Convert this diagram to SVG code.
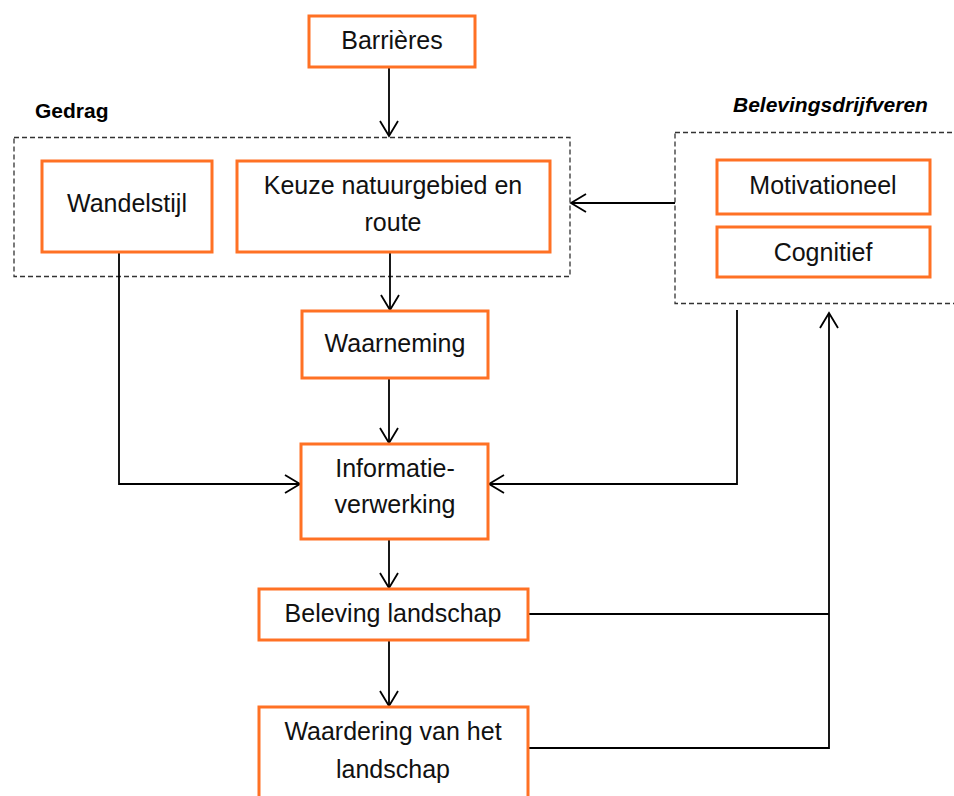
<svg xmlns="http://www.w3.org/2000/svg" width="954" height="796" viewBox="0 0 954 796">
<style>
.box{fill:#fff;stroke:#FF7124;stroke-width:3}
.grp{fill:none;stroke:#333;stroke-width:1.3;stroke-dasharray:5 3}
.t{font-family:"Liberation Sans",Arial,sans-serif;font-size:25px;fill:#111;text-anchor:middle}
.h{font-family:"Liberation Sans",Arial,sans-serif;font-size:21px;font-weight:bold;fill:#000}
.c{fill:none;stroke:#000;stroke-width:1.8}
</style>
<defs>
<marker id="arr" viewBox="-17 -11 19 22" refX="0" refY="0" markerWidth="19" markerHeight="22" markerUnits="userSpaceOnUse" orient="auto">
<path d="M-15,-9 L0,0 L-15,9" fill="none" stroke="#000" stroke-width="1.8"/>
</marker>
</defs>
<rect width="954" height="796" fill="#fff"/>
<g id="gedrag">
<rect class="grp" x="14" y="137.5" width="556" height="139"/>
<text class="h" x="35" y="118">Gedrag</text>
</g>
<g id="belevingsdrijfveren">
<rect class="grp" x="675" y="132.5" width="300" height="171"/>
<text class="h" x="733" y="112" font-style="italic">Belevingsdrijfveren</text>
</g>
<g id="connectors">
<path class="c" d="M389,67 V136" marker-end="url(#arr)"/>
<path class="c" d="M390,252 V310" marker-end="url(#arr)"/>
<path class="c" d="M675,203 H571" marker-end="url(#arr)"/>
<path class="c" d="M119,246 V484 H300" marker-end="url(#arr)"/>
<path class="c" d="M389,378 V443" marker-end="url(#arr)"/>
<path class="c" d="M737,310 V484 H489" marker-end="url(#arr)"/>
<path class="c" d="M389,539 V588" marker-end="url(#arr)"/>
<path class="c" d="M389,640 V706" marker-end="url(#arr)"/>
<path class="c" d="M528,614 H829"/>
<path class="c" d="M528,748 H829 V313" marker-end="url(#arr)"/>
</g>
<g id="barrieres">
<rect class="box" x="309" y="16" width="166" height="51"/>
<text class="t" x="392" y="49">Barrières</text>
</g>
<g id="wandelstijl">
<rect class="box" x="42" y="161" width="170" height="91"/>
<text class="t" x="127" y="212">Wandelstijl</text>
</g>
<g id="keuze">
<rect class="box" x="237" y="161" width="313" height="91"/>
<text class="t" x="393" y="194">Keuze natuurgebied en</text>
<text class="t" x="393" y="231">route</text>
</g>
<g id="motivationeel">
<rect class="box" x="717" y="160" width="213" height="54"/>
<text class="t" x="823" y="194">Motivationeel</text>
</g>
<g id="cognitief">
<rect class="box" x="717" y="227" width="213" height="50"/>
<text class="t" x="823" y="261">Cognitief</text>
</g>
<g id="waarneming">
<rect class="box" x="302" y="311" width="186" height="67"/>
<text class="t" x="395" y="352">Waarneming</text>
</g>
<g id="informatieverwerking">
<rect class="box" x="301" y="444" width="187" height="95"/>
<text class="t" x="395" y="477">Informatie-</text>
<text class="t" x="395" y="513">verwerking</text>
</g>
<g id="beleving">
<rect class="box" x="259" y="589" width="269" height="51"/>
<text class="t" x="393" y="622">Beleving landschap</text>
</g>
<g id="waardering">
<rect class="box" x="259" y="707" width="269" height="100"/>
<text class="t" x="393" y="740">Waardering van het</text>
<text class="t" x="393" y="778">landschap</text>
</g>
</svg>
